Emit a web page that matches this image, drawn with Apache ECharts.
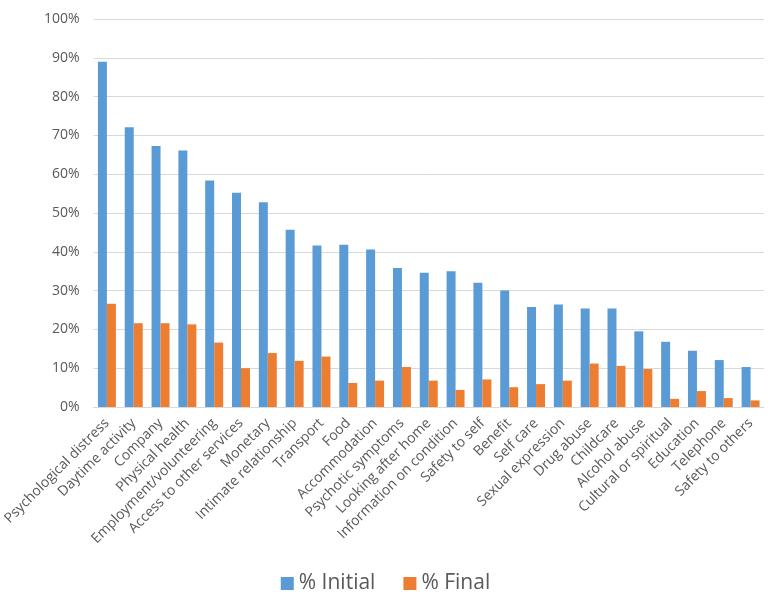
<!DOCTYPE html>
<html>
<head>
<meta charset="utf-8">
<script src="https://cdn.jsdelivr.net/npm/echarts@6/dist/echarts.min.js"></script>
<style>html,body{margin:0;padding:0;background:#fff}#c{width:771px;height:596px}</style>
</head>
<body>
<div id="c"></div>
<script>
const categories = ["Psychological distress","Daytime activity","Company","Physical health","Employment/volunteering","Access to other services","Monetary","Intimate relationship","Transport","Food","Accommodation","Psychotic symptoms","Looking after home","Information on condition","Safety to self","Benefit","Self care","Sexual expression","Drug abuse","Childcare","Alcohol abuse","Cultural or spiritual","Education","Telephone","Safety to others"];
const initialPct = [89.0,72.1,67.3,66.1,58.4,55.2,52.8,45.7,41.6,41.8,40.6,35.8,34.6,35.0,32.0,30.0,25.8,26.4,25.4,25.4,19.5,16.8,14.5,12.1,10.3];
const finalPct = [26.6,21.6,21.6,21.3,16.6,10.0,13.9,11.9,13.0,6.2,6.8,10.3,6.8,4.4,7.1,5.1,5.9,6.8,11.2,10.6,9.8,2.1,4.1,2.3,1.7];
const seriesNames = ["% Initial","% Final"];
const yTicks = {min:0,max:100,interval:10};

const chart = echarts.init(document.getElementById('c'));
const font = "'Open Sans', 'Noto Sans', sans-serif";
chart.setOption({
  animation:false,
  textStyle:{fontFamily:font},
  grid:{left:91,right:7,top:19,bottom:189,containLabel:false},
  legend:{
    top:568,left:'center',itemWidth:13,itemHeight:13,itemGap:28,
    icon:'rect',
    textStyle:{fontSize:21,color:'#595959',fontFamily:font},
    data:seriesNames
  },
  xAxis:{
    type:'category',data:categories,
    axisLine:{lineStyle:{color:'#d9d9d9'}},
    axisTick:{show:false},
    axisLabel:{rotate:45,interval:0,color:'#595959',fontSize:14,fontFamily:font,margin:14}
  },
  yAxis:{
    type:'value',min:yTicks.min,max:yTicks.max,interval:yTicks.interval,
    axisLine:{show:false},axisTick:{show:false},
    splitLine:{lineStyle:{color:'#d9d9d9',width:1}},
    axisLabel:{formatter:'{value}%',color:'#595959',fontSize:14,fontFamily:font,margin:14}
  },
  series:[
    {name:seriesNames[0],type:'bar',data:initialPct,itemStyle:{color:'#5B9BD5'},barGap:'0%',barCategoryGap:'33%'},
    {name:seriesNames[1],type:'bar',data:finalPct,itemStyle:{color:'#ED7D31'},barGap:'0%',barCategoryGap:'33%'}
  ]
});
</script>
</body>
</html>
